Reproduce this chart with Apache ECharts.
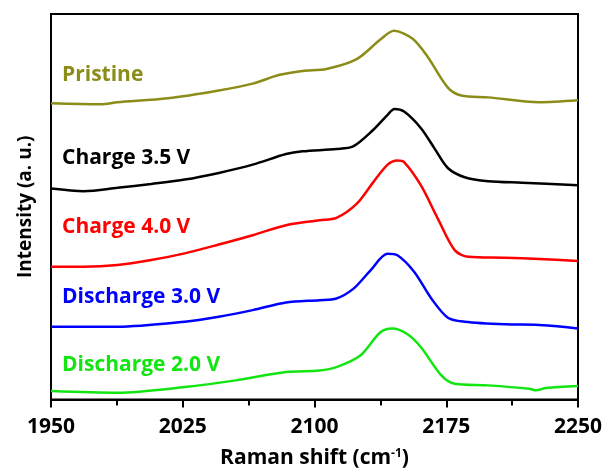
<!DOCTYPE html>
<html>
<head>
<meta charset="utf-8">
<script src="https://cdn.jsdelivr.net/npm/echarts@6/dist/echarts.min.js"></script>
<style>html,body{margin:0;padding:0;background:#fff}#c{width:609px;height:474px}</style>
</head>
<body>
<div id="c"></div>
<script>
// x: Raman shift (cm-1), y: intensity (a. u., offset stacked)
const pristineX = [1950, 1978.2, 1987.8, 2016.5, 2045.5, 2064.8, 2080.1, 2093.2, 2106.8, 2124, 2137.5, 2145.2, 2155.7, 2164.2, 2175.9, 2183.5, 2198.9, 2227.8, 2250];
const pristineY = [303, 302, 304, 308, 316, 323, 332, 336, 338, 348, 368, 377, 369, 351, 319, 311, 309, 304, 306];

const charge35X = [1950, 1968.6, 1987.8, 2007.0, 2026.1, 2045.5, 2064.8, 2083.8, 2093.2, 2112.5, 2122, 2133.5, 2141.5, 2145.5, 2151.0, 2160.6, 2168.2, 2175.9, 2185.5, 2198.9, 2218.2, 2250];
const charge35Y = [216, 213.4, 216.8, 220.8, 225.2, 232, 240.4, 251.2, 254, 256.3, 259, 276, 291, 297.2, 294.5, 277.6, 257.3, 237, 227.6, 223.5, 222, 219.5];

const charge40X = [1950, 1968.6, 1987.8, 2007, 2026.1, 2045.5, 2064.8, 2083.8, 2102.8, 2112.5, 2124.1, 2133.5, 2141.5, 2147.2, 2151, 2160.6, 2170.2, 2179.8, 2187.5, 2208.5, 2227.8, 2250];
const charge40Y = [136.4, 136.4, 138.1, 143.2, 150, 159, 168.5, 178.7, 183.7, 186.1, 200.6, 222.6, 240.2, 244.6, 243, 219.2, 185.4, 153.3, 146.6, 145.6, 144.2, 142.2];

const discharge30X = [1950, 1987.8, 2026.1, 2045.5, 2064.8, 2083.8, 2102.8, 2112.5, 2122.2, 2131.9, 2141.5, 2147.2, 2156.8, 2166.5, 2175.9, 2185.5, 2208.5, 2227.8, 2250];
const discharge30Y = [75.2, 75.2, 80.3, 85.4, 92.1, 99.9, 102.3, 104, 114, 132.7, 149.6, 148, 131, 104, 84.4, 80.3, 77.6, 77, 73.5];

const discharge20X = [1950, 1987.8, 2026.1, 2055.1, 2083.8, 2102.8, 2112.5, 2126.1, 2137.5, 2144.3, 2152.8, 2160.6, 2172.2, 2179.8, 2198.9, 2222.2, 2226.1, 2231.8, 2250];
const discharge20Y = [9.7, 8, 13.7, 20.5, 29, 30.6, 34, 45.8, 69.5, 73.5, 67.8, 54.3, 25.6, 17.1, 15.4, 12, 10.4, 12.7, 14.8];

const xTicks = [1950, 2025, 2100, 2175, 2250];
const seriesNames = ['Pristine', 'Charge 3.5 V', 'Charge 4.0 V', 'Discharge 3.0 V', 'Discharge 2.0 V'];
const seriesColors = ['#8c8c18', '#000000', '#ff0000', '#0000ff', '#12e512'];
const labelY = [79, 162, 231, 301, 369];

const xs = [pristineX, charge35X, charge40X, discharge30X, discharge20X];
const ys = [pristineY, charge35Y, charge40Y, discharge30Y, discharge20Y];

const FONT = '"Open Sans", "Noto Sans", sans-serif';
const chart = echarts.init(document.getElementById('c'), null, {renderer: 'canvas'});
chart.setOption({
  animation: false,
  backgroundColor: '#fff',
  grid: {left: 51, right: 31, top: 14, bottom: 67, show: true, borderColor: '#000', borderWidth: 2, containLabel: false},
  xAxis: {
    type: 'value', min: 1950, max: 2250, interval: 75,
    axisLine: {show: true, onZero: false, lineStyle: {color: '#000', width: 2}},
    axisTick: {show: true, length: 8, lineStyle: {color: '#000', width: 2}},
    minorTick: {show: true, splitNumber: 2, length: 6, lineStyle: {color: '#000', width: 2}},
    splitLine: {show: false},
    axisLabel: {color: '#000', fontFamily: FONT, fontWeight: 'bold', fontSize: 21, margin: 17,
      formatter: v => xTicks.includes(v) ? String(v) : ''},
    name: 'Raman shift (cm{sup|-1})', nameLocation: 'middle', nameGap: 48,
    nameTextStyle: {color: '#000', fontFamily: FONT, fontWeight: 'bold', fontSize: 21,
      rich: {sup: {fontSize: 12, fontWeight: 'bold', fontFamily: FONT, color: '#000', verticalAlign: 'top', padding: [0, 0, 10, 0]}}}
  },
  yAxis: {
    type: 'value', min: 1, max: 394,
    axisLine: {show: true, lineStyle: {color: '#000', width: 2}},
    axisTick: {show: false}, axisLabel: {show: false}, splitLine: {show: false},
    name: 'Intensity (a. u.)', nameLocation: 'middle', nameGap: 16, nameRotate: 90,
    nameTextStyle: {color: '#000', fontFamily: FONT, fontWeight: 'bold', fontSize: 19}
  },
  series: seriesNames.map((n, i) => ({
    name: n, type: 'line', smooth: 0.3, showSymbol: false, symbol: 'none',
    data: xs[i].map((x, j) => [x, ys[i][j]]),
    lineStyle: {color: seriesColors[i], width: 2.5}, itemStyle: {color: seriesColors[i]}
  })),
  graphic: seriesNames.map((n, i) => ({
    type: 'text', left: 62, top: labelY[i] - 14,
    style: {text: n, fill: seriesColors[i], font: 'bold 21px ' + FONT}
  }))
});
</script>
</body>
</html>
